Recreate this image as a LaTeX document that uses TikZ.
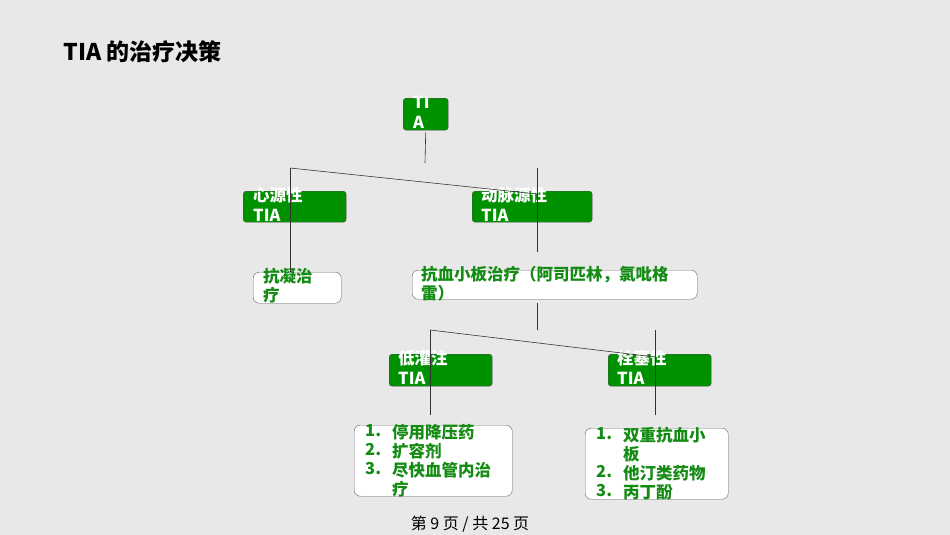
\documentclass[tikz,border=0pt]{standalone}
\usepackage{fontspec}
\setmainfont{Noto Sans CJK SC}
\usetikzlibrary{positioning}
\definecolor{boxgreen}{RGB}{0,145,0}
\definecolor{txtgreen}{RGB}{20,140,20}
\definecolor{bg}{RGB}{232,232,232}
\tikzset{
  gbox/.style={draw=black!70, fill=boxgreen, rounded corners=3pt, anchor=north west, inner sep=0pt},
  wbox/.style={draw=black!60, fill=white, rounded corners=6pt, anchor=north west, inner sep=0pt},
  gtxt/.style={anchor=north west, text=white, font=\bfseries\fontsize{16.5}{20}\selectfont, align=left, inner sep=0pt},
  wtxt/.style={anchor=north west, text=txtgreen, font=\bfseries\fontsize{16.5}{19}\selectfont, align=left, inner sep=0pt},
  link/.style={draw=black!80, line width=0.6pt}
}
\begin{document}
\begin{tikzpicture}[x=1pt, y=-1pt]
                \fill[bg] (0,0) rectangle (950,535);
                \useasboundingbox (0,0) rectangle (950,535);
                % Title
                \node[anchor=west, font=\bfseries\fontsize{23}{26}\selectfont] (title) at (60,52) {TIA 的治疗决策};

                % Green boxes
                \node[gbox, minimum width=45pt, minimum height=32pt] (tia) at (403,98) {};
                \node[gtxt] at (413,96) {TI\\A};
                \node[gbox, minimum width=103pt, minimum height=31pt] (heart) at (243,191) {};
                \node[gtxt] at (253,187) {心源性\\TIA};
                \node[gbox, minimum width=120pt, minimum height=31pt] (artery) at (472,191) {};
                \node[gtxt] at (481,187) {动脉源性\\TIA};
                \node[gbox, minimum width=103pt, minimum height=32pt] (lowflow) at (389,354) {};
                \node[gtxt] at (398,350) {低灌注\\TIA};
                \node[gbox, minimum width=103pt, minimum height=32pt] (embol) at (608,354) {};
                \node[gtxt] at (617,350) {栓塞性\\TIA};

                % White boxes
                \node[wbox, minimum width=88pt, minimum height=31pt] (anticoag) at (253,272) {};
                \node[wtxt] at (263,268) {抗凝治\\疗};
                \node[wbox, minimum width=285pt, minimum height=29pt] (antiplt) at (412,270) {};
                \node[wtxt] at (421,266) {抗血小板治疗（阿司匹林，氯吡格\\雷）};
                \node[wbox, minimum width=158pt, minimum height=71pt] (listA) at (354,425) {};
                \node[wtxt] at (365,424) {1.\\2.\\3.};
                \node[wtxt] at (392,424) {停用降压药\\扩容剂\\尽快血管内治\\疗};
                \node[wbox, minimum width=143pt, minimum height=71pt] (listB) at (585,428) {};
                \node[wtxt] at (596,427) {1.\\\\2.\\3.};
                \node[wtxt] at (623,427) {双重抗血小\\板\\他汀类药物\\丙丁酚};

                % Connectors
                \coordinate (j0) at (425,163);
                \coordinate (j1) at (290,168);
                \coordinate (j2) at (537,168);
                \coordinate (j3) at (430,330);
                \coordinate (j4) at (655,330);
                \coordinate (k1) at (537,194);
                \coordinate (k2) at (655,357);
                \draw[link] (tia.south) ++(0,2) -- (j0);
                \draw[link] (j1) -- (j1 |- anticoag.north) ++(0,-20);
                \draw[link] (j1) -- (k1);
                \draw[link] (j2) -- (537,252);
                \draw[link] (537,303) -- (537,330);
                \draw[link] (j3) -- (430,415);
                \draw[link] (j3) -- (k2);
                \draw[link] (j4) -- (655,415);

                % Footer
                \node[font=\fontsize{16}{18}\selectfont] (footer) at (470,524) {第 9 页 / 共 25 页};
            \end{tikzpicture}
\end{document}
